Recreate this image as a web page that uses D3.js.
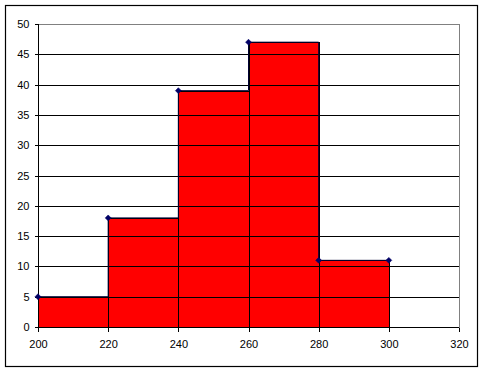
<!DOCTYPE html>
<html lang="en">
<head>
<meta charset="utf-8">
<title>Histogram</title>
<style>
body{
  margin: 0;
  background: #fff;
}
.axis text{
  font: 11px "Liberation Sans", Arial, sans-serif;
  fill: #000;
}
.axis path, .axis line{
  stroke: #000;
  shape-rendering: crispEdges;
}
</style>
</head>
<body>
<div id="chart"></div>
<script src="https://d3js.org/d3.v7.min.js"></script>
<script>
// bin edges and counts (last point repeats the top of the final bin)
var edges = [200, 220, 240, 260, 280, 300];
var counts = [5, 18, 39, 47, 11, 11];
var xTicks = [200, 220, 240, 260, 280, 300, 320];
var yTicks = [0, 5, 10, 15, 20, 25, 30, 35, 40, 45, 50];

var svg = d3.select("#chart").append("svg")
  .attr("width", 485)
  .attr("height", 371);

svg.append("rect")
  .attr("width", 485).attr("height", 371)
  .attr("fill", "#fff");

// outer chart frame
svg.append("rect")
  .attr("x", 5.5).attr("y", 5.5)
  .attr("width", 472).attr("height", 361)
  .attr("fill", "none")
  .attr("stroke", "#000")
  .attr("stroke-width", 1.2);

var margin = { top: 24, left: 38 };
var width = 421;
var height = 303;

var graph = svg.append("g")
  .attr("transform", `translate(${margin.left}, ${margin.top})`);

var x = d3.scaleLinear().domain([200, 320]).range([0, width]);
var y = d3.scaleLinear().domain([0, 50]).range([height, 0]);

// plot area border (top/right grey)
graph.append("rect")
  .attr("x", 0.5).attr("y", 0.5)
  .attr("width", width).attr("height", height)
  .attr("fill", "none")
  .attr("stroke", "#808080")
  .style("shape-rendering", "crispEdges");

// bars
var bars = edges.slice(0, -1).map((e, i) => ({ x0: e, x1: edges[i + 1], v: counts[i] }));
graph.selectAll("rect.bar").data(bars)
  .enter().append("rect")
  .attr("class", "bar")
  .attr("x", (d) => Math.round(x(d.x0)) + 0.5)
  .attr("y", (d) => Math.round(y(d.v)) + 0.5)
  .attr("width", (d) => Math.round(x(d.x1)) - Math.round(x(d.x0)))
  .attr("height", (d) => Math.round(y(0)) - Math.round(y(d.v)))
  .attr("fill", "#ff0000")
  .attr("stroke", "#000")
  .attr("stroke-width", 1)
  .style("shape-rendering", "crispEdges");

// horizontal gridlines, drawn on top of fill
graph.selectAll("line.grid").data(yTicks.filter((t) => t > 0 && t < 50))
  .enter().append("line")
  .attr("class", "grid")
  .attr("x1", 0).attr("x2", width)
  .attr("y1", (d) => Math.round(y(d)) + 0.5)
  .attr("y2", (d) => Math.round(y(d)) + 0.5)
  .attr("stroke", "#000")
  .style("shape-rendering", "crispEdges");

// step line of series
var line = d3.line()
  .x((d, i) => x(edges[i]))
  .y((d) => y(d))
  .curve(d3.curveStepAfter);
graph.append("path")
  .datum(counts)
  .attr("d", line)
  .attr("fill", "none")
  .attr("stroke", "#000033")
  .attr("stroke-width", 1);

// axes
var yAxis = d3.axisLeft(y).tickValues(yTicks).tickSize(4).tickPadding(5);
var xAxis = d3.axisBottom(x).tickValues(xTicks).tickSize(4).tickPadding(9);

graph.append("g").attr("class", "axis")
  .attr("transform", "translate(0.5,0)")
  .call(yAxis)
  .call((g) => g.select(".domain").attr("d", `M0,0V${height}`));

graph.append("g").attr("class", "axis")
  .attr("transform", `translate(0, ${height + 0.5})`)
  .call(xAxis)
  .call((g) => g.select(".domain").attr("d", `M0,0H${width}`));

// markers
graph.selectAll("path.marker").data(counts)
  .enter().append("path")
  .attr("class", "marker")
  .attr("transform", (d, i) => `translate(${x(edges[i])}, ${y(d)})`)
  .attr("d", d3.symbol(d3.symbolDiamond2, 22))
  .attr("fill", "#000066")
  .attr("stroke", "#000066")
  .attr("stroke-width", 0.6);
</script>
</body>
</html>
